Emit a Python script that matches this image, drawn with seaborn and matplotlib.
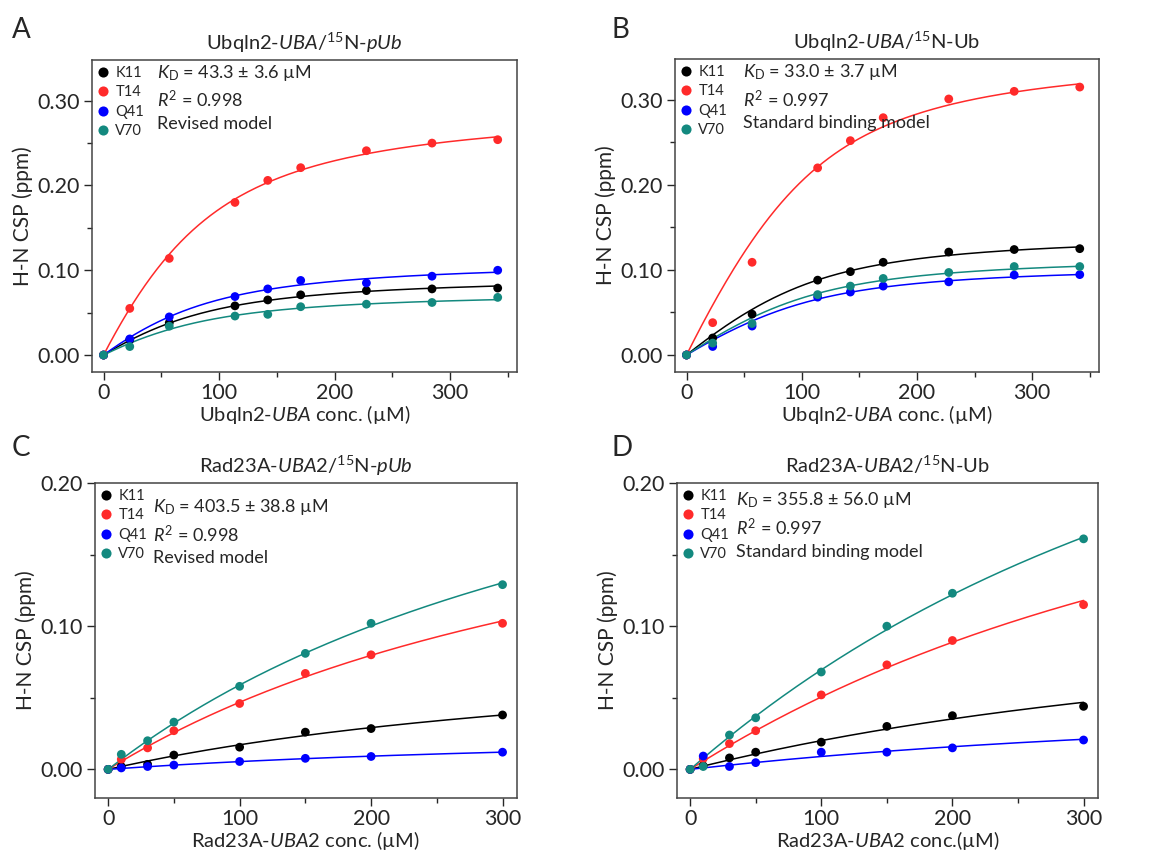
import numpy as np
import pandas as pd
import seaborn as sns
import matplotlib.pyplot as plt
from matplotlib.ticker import MultipleLocator, FormatStrFormatter

#----------------------
# Data
#----------------------

residues = ['K11', 'T14', 'Q41', 'V70']
colors = ['#000000', '#ff2a2a', '#0000ff', '#13897f']

ubqln_conc = [0, 22.7, 56.9, 113.8, 142.2, 170.7, 227.6, 284.4, 341.3]
rad23_conc = [0, 10, 30, 50, 100, 150, 200, 300]

# A: Ubqln2-UBA / 15N-pUb
a_k11 = [0, 0.018, 0.038, 0.058, 0.065, 0.071, 0.076, 0.078, 0.079]
a_t14 = [0, 0.055, 0.114, 0.180, 0.206, 0.221, 0.241, 0.250, 0.254]
a_q41 = [0, 0.019, 0.045, 0.069, 0.078, 0.088, 0.085, 0.093, 0.100]
a_v70 = [0, 0.010, 0.034, 0.046, 0.048, 0.057, 0.060, 0.062, 0.068]

# B: Ubqln2-UBA / 15N-Ub
b_k11 = [0, 0.020, 0.048, 0.088, 0.098, 0.109, 0.121, 0.124, 0.125]
b_t14 = [0, 0.038, 0.109, 0.220, 0.252, 0.279, 0.301, 0.310, 0.315]
b_q41 = [0, 0.010, 0.034, 0.068, 0.074, 0.081, 0.086, 0.094, 0.0945]
b_v70 = [0, 0.014, 0.037, 0.071, 0.081, 0.090, 0.097, 0.104, 0.104]

# C: Rad23A-UBA2 / 15N-pUb
c_k11 = [0, 0.002, 0.0035, 0.010, 0.0155, 0.026, 0.0285, 0.038]
c_t14 = [0, 0.007, 0.015, 0.027, 0.046, 0.067, 0.080, 0.102]
c_q41 = [0, 0.001, 0.002, 0.003, 0.0055, 0.0077, 0.009, 0.012]
c_v70 = [0, 0.0105, 0.020, 0.033, 0.058, 0.081, 0.102, 0.129]

# D: Rad23A-UBA2 / 15N-Ub
d_k11 = [0, 0.0025, 0.008, 0.012, 0.019, 0.030, 0.0375, 0.044]
d_t14 = [0, 0.0075, 0.018, 0.027, 0.052, 0.073, 0.090, 0.115]
d_q41 = [0, 0.0093, 0.002, 0.0047, 0.012, 0.012, 0.015, 0.0205]
d_v70 = [0, 0.002, 0.024, 0.036, 0.068, 0.100, 0.123, 0.161]

kd_values = [43.3, 33.0, 403.5, 355.8]
kd_errors = [3.6, 3.7, 38.8, 56.0]
r2_values = [0.998, 0.997, 0.998, 0.997]
protein_conc = [70, 100, 40, 150]   # assumed 15N-Ub concentration used in the fit

panel_letters = ['A', 'B', 'C', 'D']
titles = [r'Ubqln2-$\it{UBA}$/$^{15}$N-$\it{pUb}$',
          r'Ubqln2-$\it{UBA}$/$^{15}$N-Ub',
          r'Rad23A-$\it{UBA2}$/$^{15}$N-$\it{pUb}$',
          r'Rad23A-$\it{UBA2}$/$^{15}$N-Ub']
xlabels = [r'Ubqln2-$\it{UBA}$ conc. (µM)',
           r'Ubqln2-$\it{UBA}$ conc. (µM)',
           r'Rad23A-$\it{UBA2}$ conc. (µM)',
           r'Rad23A-$\it{UBA2}$ conc.(µM)']
model_names = ['Revised model', 'Standard binding model',
               'Revised model', 'Standard binding model']

#----------------------
# Style
#----------------------

sns.set_style('ticks')
plt.rcParams['font.family'] = ['Lato', 'DejaVu Sans']
plt.rcParams['mathtext.fontset'] = 'custom'
plt.rcParams['mathtext.rm'] = 'Lato'
plt.rcParams['mathtext.it'] = 'Lato:italic'
plt.rcParams['mathtext.bf'] = 'Lato:bold'
plt.rcParams['axes.edgecolor'] = '#444444'
plt.rcParams['axes.linewidth'] = 1.1

palette = dict(zip(residues, colors))


def binding(L, kd, p):
    # single-site binding with ligand depletion
    s = p + L + kd
    return (s - np.sqrt(s ** 2 - 4 * p * L)) / (2 * p)


def make_tables(conc, series, kd, p):
    rows = []
    fits = []
    conc = np.asarray(conc, dtype=float)
    xs = np.linspace(0, conc.max(), 200)
    for res, vals in zip(residues, series):
        vals = np.asarray(vals)
        f = binding(conc, kd, p)
        bmax = np.sum(f * vals) / np.sum(f * f)
        rows.append(pd.DataFrame({'conc': conc, 'csp': vals, 'residue': res}))
        fits.append(pd.DataFrame({'conc': xs, 'csp': bmax * binding(xs, kd, p),
                                  'residue': res}))
    return pd.concat(rows), pd.concat(fits)


panel_data = [
    (ubqln_conc, [a_k11, a_t14, a_q41, a_v70]),
    (ubqln_conc, [b_k11, b_t14, b_q41, b_v70]),
    (rad23_conc, [c_k11, c_t14, c_q41, c_v70]),
    (rad23_conc, [d_k11, d_t14, d_q41, d_v70]),
]

# axes rectangles in pixels (left, top, right, bottom) of a 1157x852 canvas
W, H = 1157, 852
boxes = [(92, 60, 517, 372), (675, 59, 1099, 372),
         (95, 483, 517, 798), (677, 483, 1098, 798)]
text_rows = [(0.153, [0.958, 0.872, 0.795]),
             (0.160, [0.958, 0.872, 0.795]),
             (0.137, [0.924, 0.835, 0.763]),
             (0.140, [0.946, 0.858, 0.782])]
letter_pos = [(12, 30), (612, 30), (12, 448), (612, 448)]

#-----------
# Plot
#-----------

fig = plt.figure(figsize=(W / 100, H / 100), dpi=100)

for i in range(4):
    l, t, r, b = boxes[i]
    ax = fig.add_axes([l / W, 1 - b / H, (r - l) / W, (b - t) / H])
    conc, series = panel_data[i]
    pts, fit = make_tables(conc, series, kd_values[i], protein_conc[i])

    sns.lineplot(data=fit, x='conc', y='csp', hue='residue', palette=palette,
                 linewidth=1.1, legend=False, ax=ax)
    sns.scatterplot(data=pts, x='conc', y='csp', hue='residue', palette=palette,
                    s=40, edgecolor='none', ax=ax, zorder=3)

    if i < 2:
        ax.set_xlim(-10, 358)
        ax.set_ylim(-0.02, 0.348)
    else:
        ax.set_xlim(-10, 311)
        ax.set_ylim(-0.02, 0.20)
    ax.xaxis.set_major_locator(MultipleLocator(100))
    ax.xaxis.set_minor_locator(MultipleLocator(50))
    ax.yaxis.set_major_locator(MultipleLocator(0.1))
    ax.yaxis.set_minor_locator(MultipleLocator(0.05))
    ax.yaxis.set_major_formatter(FormatStrFormatter('%.2f'))
    ax.tick_params(which='major', length=6, width=1, labelsize=15.5, pad=3)
    ax.tick_params(axis='x', which='major', pad=2)
    ax.tick_params(which='minor', length=3.5, width=1)

    ax.set_title(titles[i], fontsize=14.5, pad=7)
    ax.set_xlabel(xlabels[i], fontsize=14.5, labelpad=0)
    ax.set_ylabel('H-N CSP (ppm)', fontsize=15, labelpad=3)

    sns.move_legend(ax, 'upper left', bbox_to_anchor=(0.0, 1.0), frameon=False,
                    title=None, fontsize=10.5, borderaxespad=0.2, borderpad=0.2,
                    handlelength=0.7, handletextpad=0.5, labelspacing=0.38,
                    markerscale=1.15)

    tx, ty = text_rows[i]
    ax.text(tx, ty[0], r'$K_{\rm D}$ = %.1f ± %.1f µM' % (kd_values[i], kd_errors[i]),
            transform=ax.transAxes, fontsize=13, va='center')
    ax.text(tx, ty[1], r'$R^2$ = %.3f' % r2_values[i],
            transform=ax.transAxes, fontsize=13, va='center')
    ax.text(tx, ty[2], model_names[i],
            transform=ax.transAxes, fontsize=13, va='center')

    lx, ly = letter_pos[i]
    fig.text(lx / W, 1 - ly / H, panel_letters[i], fontsize=20, va='center')

plt.savefig('out.png', dpi=100)
